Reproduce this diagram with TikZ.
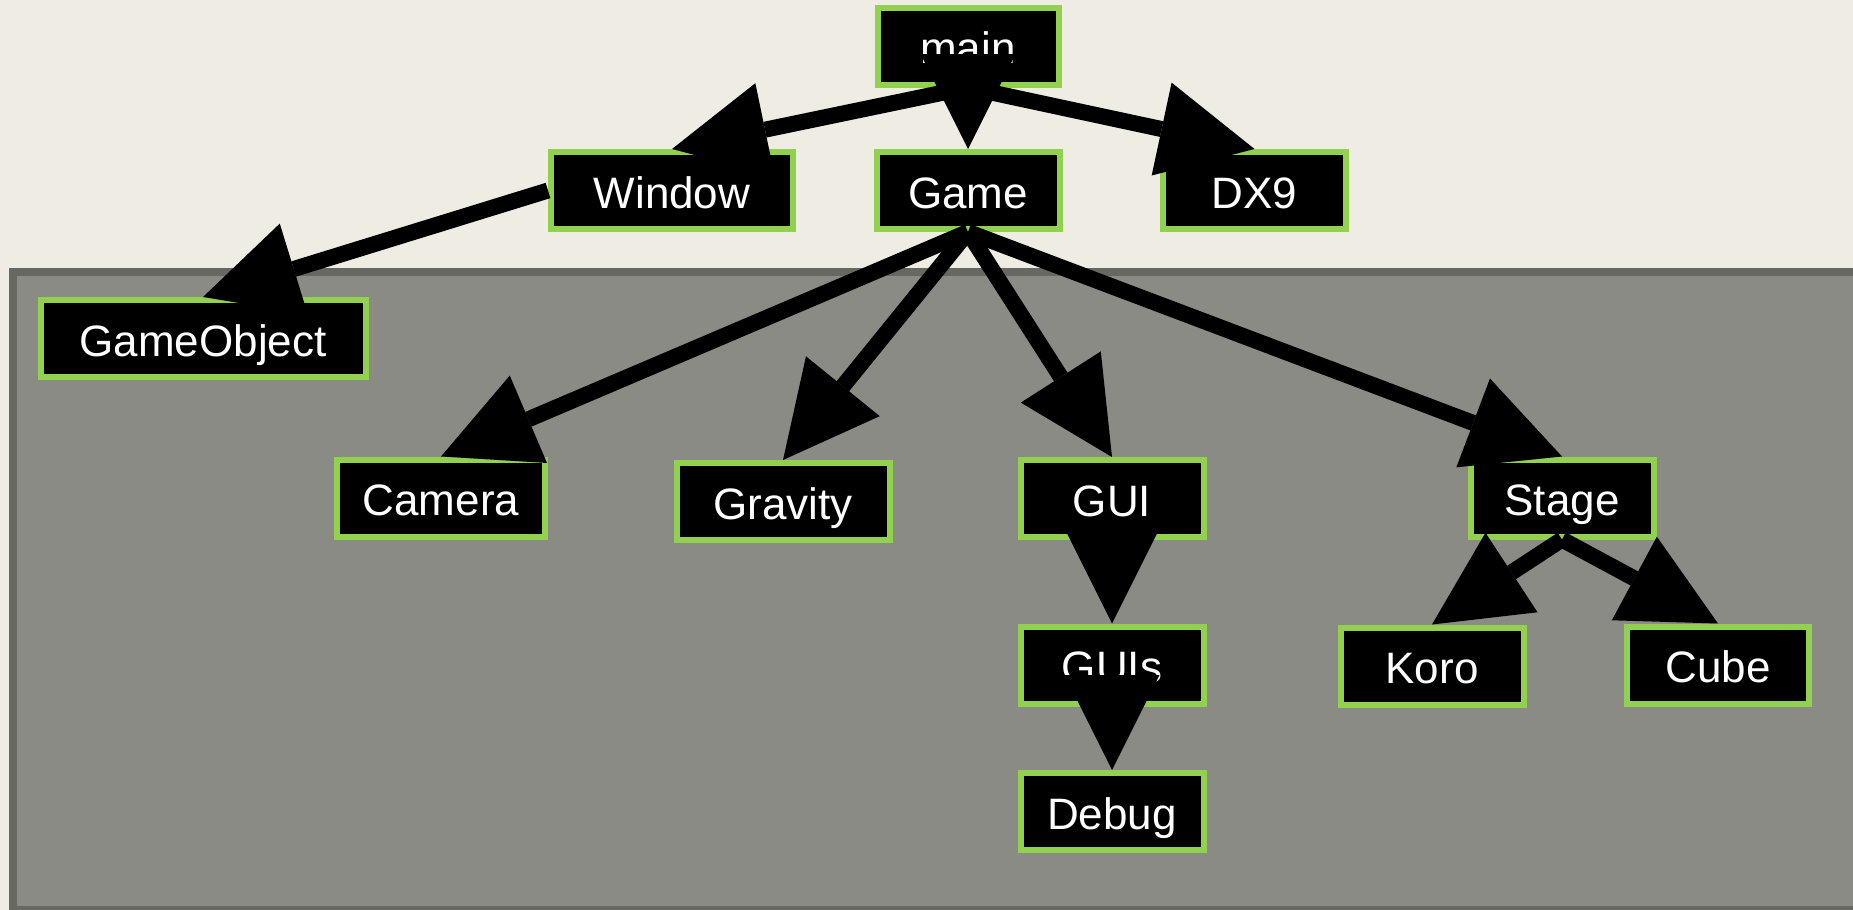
\documentclass[tikz,border=0pt]{standalone}
\usepackage{fontspec}
\setmainfont{Liberation Sans}
\usetikzlibrary{arrows.meta}
\definecolor{bgcol}{RGB}{239,236,228}
\definecolor{panelcol}{RGB}{138,139,132}
\definecolor{panelborder}{RGB}{104,104,98}
\definecolor{boxgreen}{RGB}{146,208,80}
\begin{document}
\begin{tikzpicture}[x=1pt,y=-1pt,
  box/.style={draw=boxgreen, line width=6pt, fill=black, text=white,
    font=\fontsize{44}{50}\selectfont, minimum height=77pt,
    text height=35pt, text depth=0pt, inner sep=0pt},
  conn/.style={line width=16pt, draw=black,
    -{Triangle[length=95pt,width=95pt,line width=0pt]}}]
\useasboundingbox (0,0) rectangle (1853,910);
\fill[bgcol] (0,0) rectangle (1853,910);
% lower panel
\fill[panelcol] (9,268) rectangle (1853,910);
\fill[panelborder] (9,268) rectangle (1853,276);
\fill[panelborder] (9,268) rectangle (17,910);
\fill[panelborder] (9,906) rectangle (1853,910);
% nodes
\node[box, minimum width=181pt] (main) at (968,46) {main};
\node[box, minimum width=242pt] (Window) at (672,190.5) {Window};
\node[box, minimum width=183pt] (Game) at (968,190.5) {Game};
\node[box, minimum width=183pt] (DX9) at (1254.5,190.5) {DX9};
\node[box, minimum width=325pt] (GameObject) at (203,338.5) {GameObject};
\node[box, minimum width=208pt] (Camera) at (441,498) {Camera};
\node[box, minimum width=213pt] (Gravity) at (783,501.5) {Gravity};
\node[box, minimum width=183pt] (GUI) at (1112,498.5) {GUI};
\node[box, minimum width=183pt] (GUIs) at (1112,665) {GUIs};
\node[box, minimum width=183pt] (Debug) at (1112,811.5) {Debug};
\node[box, minimum width=183pt] (Stage) at (1562,498) {Stage};
\node[box, minimum width=183pt] (Koro) at (1432,666) {Koro};
\node[box, minimum width=182pt] (Cube) at (1718,665) {Cube};
% connectors
\draw[conn] (main.south) -- (Window.north);
\draw[conn] (main.south) -- (Game.north);
\draw[conn] (main.south) -- (DX9.north);
\draw[conn] (Window.west) -- (GameObject.north);
\draw[conn] (Game.south) -- (Camera.north);
\draw[conn] (Game.south) -- (Gravity.north);
\draw[conn] (Game.south) -- (GUI.north);
\draw[conn] (Game.south) -- (Stage.north);
\draw[conn] (GUI.south) -- (GUIs.north);
\draw[conn] (GUIs.south) -- (Debug.north);
\draw[conn] (Stage.south) -- (Koro.north);
\draw[conn] (Stage.south) -- (Cube.north);
\end{tikzpicture}
\end{document}
